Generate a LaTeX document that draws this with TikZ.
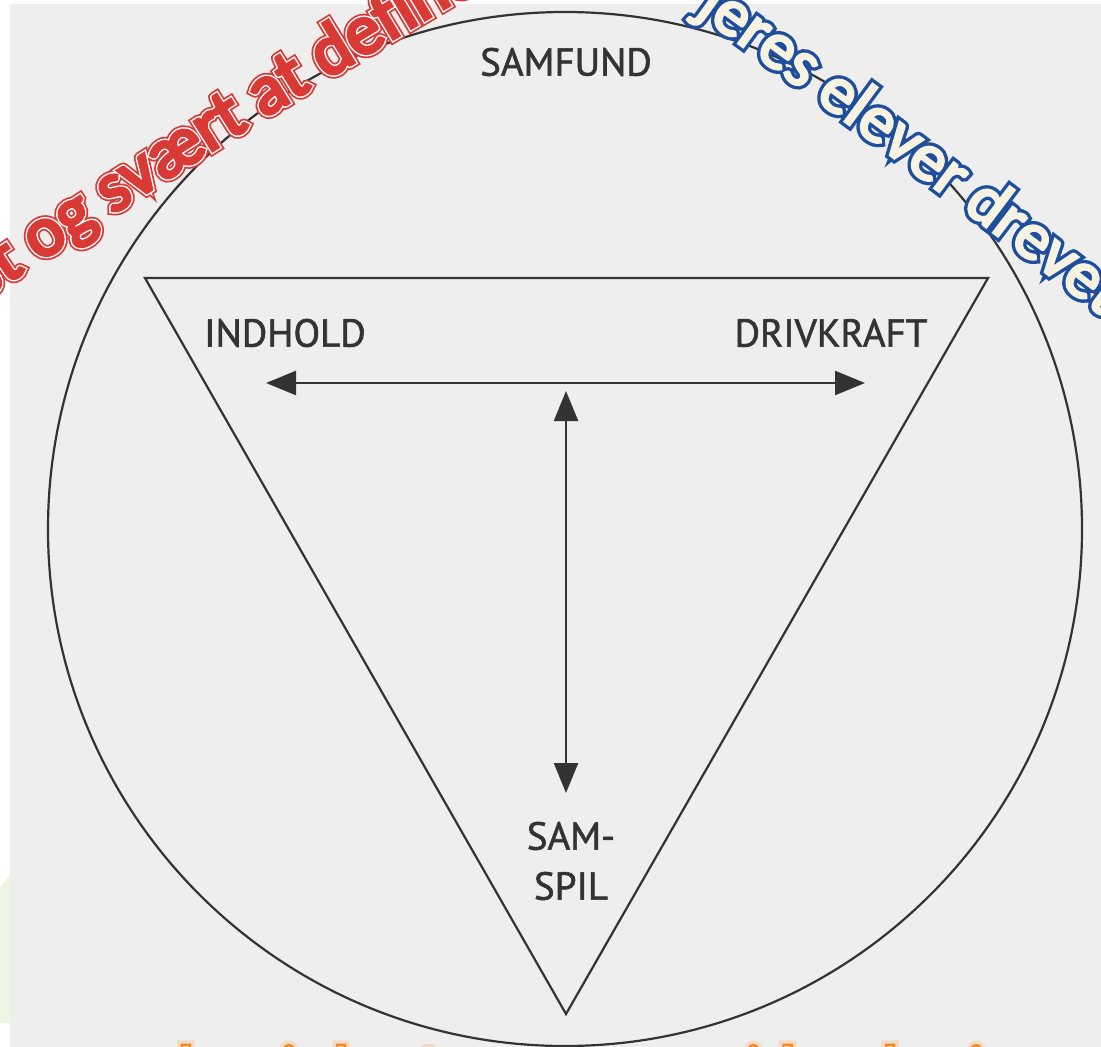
\documentclass[tikz,border=0pt]{standalone}
\usepackage{fontspec}
\usetikzlibrary{arrows.meta,decorations.text}
\newfontfamily\lblfont[FakeBold=1.5]{PT Sans}
\newfontfamily\wPlain{Carlito}
\newfontfamily\wRedOut[FakeBold=14]{Carlito}
\newfontfamily\wRedMid[FakeBold=9]{Carlito}
\newfontfamily\wRedIn[FakeBold=5]{Carlito}
\newfontfamily\wBlueOut[FakeBold=14]{Carlito}
\newfontfamily\wBlueIn[FakeBold=4]{Carlito}
\newfontfamily\wOrOut[FakeBold=9]{Carlito}
\newfontfamily\wOrGlow[FakeBold=20]{Carlito}
\definecolor{panel}{HTML}{EEEEEE}
\definecolor{ink}{HTML}{333333}
\definecolor{wred}{HTML}{D93A36}
\definecolor{wblue}{HTML}{1F4F9C}
\definecolor{wcream}{HTML}{F7F3E3}
\definecolor{worange}{HTML}{EE8A2A}
\definecolor{lgreen}{HTML}{EEF6E3}
\newcommand\RA{\wRedOut\fontsize{71pt}{80pt}\selectfont}
\newcommand\RB{\wRedMid\fontsize{71pt}{80pt}\selectfont}
\newcommand\RC{\wRedIn\fontsize{71pt}{80pt}\selectfont}
\newcommand\BA{\wBlueOut\fontsize{67pt}{78pt}\selectfont}
\newcommand\BB{\wBlueIn\fontsize{67pt}{78pt}\selectfont}
\newcommand\LSp{\kern20.5pt}
\newcommand\otxt{s\LSp a\LSp m\LSp a\LSp r\LSp b\LSp e\LSp j\LSp d\LSp e\LSp t\LSp\ \LSp o\LSp m\LSp\ \LSp v\LSp e\LSp j\LSp l\LSp e\LSp d\LSp n\LSp i\LSp n\LSp g}
\tikzset{
  lbl/.style={font=\lblfont\fontsize{39pt}{50pt}\selectfont, text=ink, inner sep=0pt, align=center},
  shape line/.style={draw=ink, line width=2.2pt},
  dbl arrow/.style={draw=ink, line width=2.4pt, {Triangle[length=30pt,width=24pt]}-{Triangle[length=30pt,width=24pt]}},
  otext/.style={anchor=base west, inner sep=0pt, font=\fontsize{60pt}{70pt}\selectfont}
}
\begin{document}
\begin{tikzpicture}[x=1pt,y=-1pt]
\useasboundingbox (0,0) rectangle (1101,1047);
\clip (0,0) rectangle (1101,1047);
\fill[white] (0,0) rectangle (1101,1047);
\fill[panel] (10,4) rectangle (1101,1047);
\fill[lgreen] (0,887) -- (10,875) -- (10,1023) -- (0,1023) -- cycle;
% circle
\coordinate (C) at (565,529);
\draw[shape line] (C) circle[radius=517pt];
% triangle
\coordinate (TL) at (145,278);
\coordinate (TR) at (988,278);
\coordinate (TB) at (566,1014);
\draw[shape line, line join=miter] (TL) -- (TR) -- (TB) -- cycle;
% arrows
\coordinate (AL) at (266,383);
\coordinate (AR) at (865,383);
\coordinate (AT) at (566,391);
\coordinate (AB) at (566,793);
\draw[dbl arrow] (AL) -- (AR);
\draw[dbl arrow] (AT) -- (AB);
% labels
\node[lbl] (samfund) at (566,62) {SAMFUND};
\node[lbl] (indhold) at (285,333) {INDHOLD};
\node[lbl] (drivkraft) at (831,333) {DRIVKRAFT};
\node[lbl] (samspil) at (571,861) {SAM-\\SPIL};
% red overlay text
\coordinate (r0) at (-73,338);
\coordinate (r1) at (83,230);
\coordinate (r2) at (356,57);
\coordinate (r3) at (521,-36);
\path[decorate, decoration={text along path, text={|\RA|st og svært at define}, text color=wred, text align={left indent=68pt}}] (r0) .. controls (r1) and (r2) .. (r3);
\path[decorate, decoration={text along path, text={|\RB|st og svært at define}, text color=white, text align={left indent=68pt}}] (r0) .. controls (r1) and (r2) .. (r3);
\path[decorate, decoration={text along path, text={|\RC|st og svært at define}, text color=wred, text align={left indent=68pt}}] (r0) .. controls (r1) and (r2) .. (r3);
% blue overlay text
\coordinate (b0) at (625,-38);
\coordinate (b1) at (772,66);
\coordinate (b2) at (1021,250);
\coordinate (b3) at (1161,363);
\path[decorate, decoration={text along path, text={|\BA|jeres elever drevet}, text color=wblue, text align={left indent=86pt}}] (b0) .. controls (b1) and (b2) .. (b3);
\path[decorate, decoration={text along path, text={|\BB|jeres elever drevet}, text color=wcream, text align={left indent=86pt}}] (b0) .. controls (b1) and (b2) .. (b3);
% orange bottom text (mostly cut off)
\node[otext, text=worange!45, opacity=0.5] (oglow) at (-73.4,1088) {\wOrGlow\otxt};
\node[otext, text=worange] (oline) at (-73.4,1088) {\wOrOut\otxt};
\node[otext, text=white] (ofill) at (-73.4,1088) {\wPlain\otxt};
\end{tikzpicture}
\end{document}
